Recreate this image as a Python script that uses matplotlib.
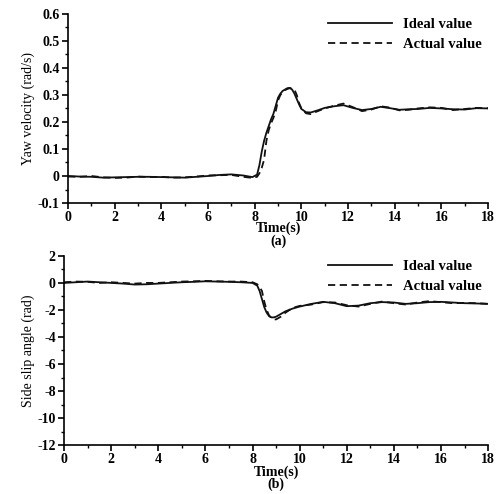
import matplotlib
matplotlib.use("Agg")
import matplotlib.pyplot as plt
from matplotlib.ticker import MultipleLocator

# -----------------------
# Data
# -----------------------
t_yaw = [0, 0.5, 1, 1.5, 2, 2.5, 3, 3.5, 4, 4.5, 5, 5.5, 6, 6.5, 7, 7.5, 7.9,
         8.1, 8.2, 8.3, 8.4, 8.5, 8.6, 8.7, 8.8, 8.9, 9.0, 9.1, 9.2, 9.3, 9.4,
         9.5, 9.6, 9.7, 9.8, 9.9, 10.0, 10.2, 10.4, 10.7, 11.0, 11.4, 11.8,
         12.2, 12.6, 13.0, 13.4, 13.8, 14.2, 14.6, 15.0, 15.5, 16.0, 16.5,
         17.0, 17.5, 18.0]
yaw_ideal = [0.0, -0.002, -0.003, -0.006, -0.005, -0.004, -0.003, -0.003,
             -0.004, -0.005, -0.006, -0.003, 0.0, 0.004, 0.006, 0.002, -0.004,
             0.005, 0.04, 0.09, 0.13, 0.16, 0.185, 0.21, 0.23, 0.26, 0.29,
             0.305, 0.315, 0.32, 0.325, 0.326, 0.32, 0.305, 0.285, 0.265,
             0.248, 0.236, 0.235, 0.243, 0.252, 0.258, 0.262, 0.252, 0.244,
             0.248, 0.256, 0.251, 0.245, 0.247, 0.248, 0.252, 0.25, 0.247,
             0.246, 0.251, 0.25]
yaw_actual = [-0.002, -0.003, 0.0, -0.005, -0.007, -0.006, -0.002, -0.004,
              -0.003, -0.006, -0.005, -0.002, 0.002, 0.003, 0.004, -0.003,
              -0.007, -0.003, 0.01, 0.03, 0.06, 0.13, 0.17, 0.195, 0.215,
              0.24, 0.28, 0.3, 0.31, 0.318, 0.322, 0.325, 0.324, 0.32, 0.3,
              0.27, 0.25, 0.232, 0.229, 0.24, 0.25, 0.26, 0.268, 0.255, 0.24,
              0.246, 0.258, 0.253, 0.243, 0.245, 0.25, 0.254, 0.252, 0.244,
              0.248, 0.252, 0.251]

t_slip = [0, 0.5, 1, 1.5, 2, 2.5, 3, 3.5, 4, 4.5, 5, 5.5, 6, 6.5, 7, 7.5, 8.0,
          8.2, 8.3, 8.4, 8.5, 8.6, 8.7, 8.8, 8.9, 9.0, 9.2, 9.4, 9.7, 10.0,
          10.5, 11.0, 11.5, 12.0, 12.5, 13.0, 13.5, 14.0, 14.5, 15.0, 15.5,
          16.0, 16.5, 17.0, 17.5, 18.0]
slip_ideal = [0.0, 0.05, 0.1, 0.05, 0.0, -0.05, -0.12, -0.1, -0.05, 0.0, 0.05,
              0.08, 0.12, 0.1, 0.08, 0.05, 0.0, -0.2, -0.6, -1.2, -1.8, -2.2,
              -2.45, -2.55, -2.55, -2.5, -2.3, -2.1, -1.9, -1.75, -1.55, -1.4,
              -1.5, -1.72, -1.68, -1.5, -1.42, -1.45, -1.55, -1.5, -1.42,
              -1.4, -1.45, -1.5, -1.52, -1.55]
slip_actual = [0.05, 0.1, 0.08, 0.0, 0.05, 0.0, -0.05, 0.0, 0.0, 0.05, 0.1,
               0.12, 0.15, 0.12, 0.1, 0.1, 0.05, -0.1, -0.3, -0.6, -1.4, -2.0,
               -2.4, -2.6, -2.7, -2.7, -2.5, -2.2, -1.85, -1.7, -1.6, -1.42,
               -1.45, -1.65, -1.75, -1.55, -1.38, -1.5, -1.6, -1.45, -1.35,
               -1.42, -1.5, -1.48, -1.5, -1.55]

legend_labels = ["Ideal value", "Actual value"]

# -----------------------
# Style
# -----------------------
plt.rcParams.update({
    "font.family": "Liberation Serif",
    "font.weight": "bold",
    "font.size": 10,
    "axes.linewidth": 1.2,
    "axes.unicode_minus": False,
})

fig = plt.figure(figsize=(4.97, 4.94), dpi=100)
ax1 = fig.add_axes([0.137, 0.589, 0.845, 0.383])
ax2 = fig.add_axes([0.129, 0.099, 0.853, 0.383])


def style_axes(ax, ymin, ymax, ymajor, yminor):
    ax.set_xlim(0, 18)
    ax.set_ylim(ymin, ymax)
    ax.xaxis.set_major_locator(MultipleLocator(2))
    ax.xaxis.set_minor_locator(MultipleLocator(1))
    ax.yaxis.set_major_locator(MultipleLocator(ymajor))
    ax.yaxis.set_minor_locator(MultipleLocator(yminor))
    ax.spines["top"].set_visible(False)
    ax.spines["right"].set_visible(False)
    ax.tick_params(which="major", direction="out", length=4, width=1.2,
                   labelsize=10, pad=2)
    ax.tick_params(which="minor", direction="out", length=2.5, width=1.0)
    for lab in ax.get_xticklabels() + ax.get_yticklabels():
        lab.set_fontweight("bold")


def draw(ax, t, ideal, actual):
    ax.plot(t, ideal, color="#111111", lw=1.3, label=legend_labels[0])
    ax.plot(t, actual, color="#111111", lw=1.3, dashes=(4, 2.5),
            label=legend_labels[1])
    ax.legend(loc="upper right", bbox_to_anchor=(1.0, 1.01), frameon=False,
              handlelength=4.4, handletextpad=0.8, labelspacing=0.45,
              borderaxespad=0.0, prop={"weight": "bold", "size": 10.5})


draw(ax1, t_yaw, yaw_ideal, yaw_actual)
style_axes(ax1, -0.1, 0.6, 0.1, 0.05)
ax1.yaxis.set_major_formatter(plt.FuncFormatter(lambda v, p: f"{v:g}"))
ax1.set_ylabel("Yaw velocity (rad/s)", fontweight="normal", fontsize=10,
               labelpad=2)
ax1.set_xlabel("Time(s)\n(a)", fontweight="bold", fontsize=10, labelpad=-2,
               linespacing=0.95)

draw(ax2, t_slip, slip_ideal, slip_actual)
style_axes(ax2, -12, 2, 2, 1)
ax2.set_ylabel("Side slip angle (rad)", fontweight="normal", fontsize=10,
               labelpad=2)
ax2.set_xlabel("Time(s)\n(b)", fontweight="bold", fontsize=10, labelpad=-1,
               linespacing=0.95)

fig.savefig("out.png", dpi=100)
plt.close(fig)
